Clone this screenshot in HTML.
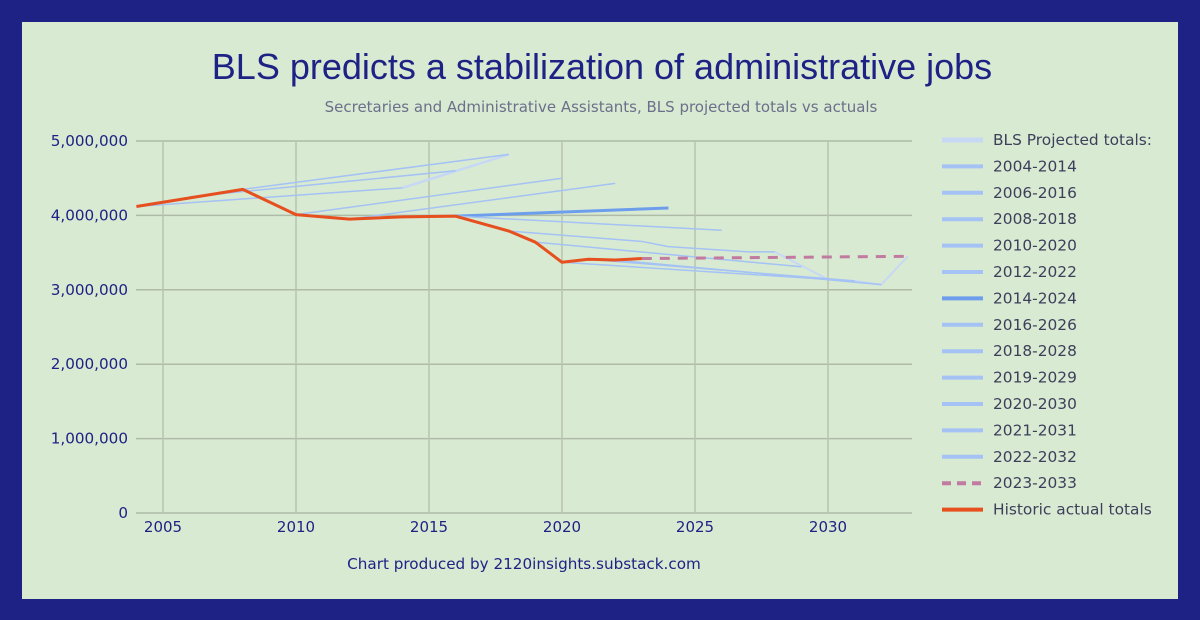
<!DOCTYPE html>
<html><head><meta charset="utf-8"><style>
html,body{margin:0;padding:0;width:1200px;height:620px;background:#1e2284;overflow:hidden}
#card{position:absolute;left:22px;top:22px;width:1156px;height:577px;background:#d9ead3}
svg{position:absolute;left:0;top:0}
text{font-family:"DejaVu Sans","Liberation Sans",sans-serif}
</style></head><body>
<div id="card"></div>
<svg id="chart" width="1200" height="620">
<text x="602" y="79" text-anchor="middle" font-size="36" fill="#1e2284" style="font-family:'Liberation Sans',sans-serif">BLS predicts a stabilization of administrative jobs</text>
<text x="601" y="112" text-anchor="middle" font-size="15" fill="#6b6f8a">Secretaries and Administrative Assistants, BLS projected totals vs actuals</text>
<text x="524" y="569" text-anchor="middle" font-size="15.2" fill="#1e2284">Chart produced by 2120insights.substack.com</text>
<g id="grid"></g><g id="series"></g><g id="legend"></g>
</svg>
<script>
const xTicks=[2005,2010,2015,2020,2025,2030];
const yTicks=[0,1000000,2000000,3000000,4000000,5000000];
const actualYears=[2004,2008,2010,2012,2014,2016,2018,2019,2020,2021,2022,2023];
const actualValues=[4.12,4.35,4.01,3.95,3.98,3.99,3.79,3.64,3.37,3.41,3.40,3.42];
const dashYears=[2023,2033];
const dashValues=[3.42,3.45];
const seriesNames=["BLS Projected totals:","2004-2014","2006-2016","2008-2018","2010-2020","2012-2022","2014-2024","2016-2026","2018-2028","2019-2029","2020-2030","2021-2031","2022-2032"];
const seriesYears=[[2014,2018],[2004,2014],[2006,2016],[2008,2018],[2010,2020],[2012,2022],[2016,2024],[2016,2026],[2018,2023,2024,2027,2028],[2019,2029],[2020,2030],[2021,2031],[2022,2032]];
const seriesValues=[[4.37,4.82],[4.12,4.37],[4.25,4.60],[4.35,4.82],[4.01,4.50],[3.95,4.43],[3.99,4.10],[3.99,3.80],[3.79,3.65,3.58,3.51,3.51],[3.64,3.31],[3.37,3.14],[3.41,3.12],[3.40,3.07]];
const extraYears=[[2028,2030],[2031,2032,2033]];
const extraValues=[[3.51,3.14],[3.12,3.07,3.45]];
const X=y=>163+(y-2005)*26.6, Y=v=>513-v*74.4;
const NS="http://www.w3.org/2000/svg";
function mk(t,p,a){const e=document.createElementNS(NS,t);for(const k in a)e.setAttribute(k,a[k]);p.appendChild(e);return e;}
const grid=document.getElementById('grid'),ser=document.getElementById('series'),leg=document.getElementById('legend');
const defs=mk('clipPath',document.getElementById('chart'),{id:'clip'});mk('rect',defs,{x:136,y:130,width:776,height:390});
yTicks.forEach(v=>{const l=mk('line',grid,{x1:136,x2:912,y1:Y(v/1e6),y2:Y(v/1e6),stroke:'#aebba6','stroke-width':1.5});

const t=mk('text',grid,{x:128,y:Y(v/1e6)+5,'text-anchor':'end','font-size':15.2,fill:'#1e2284'});t.textContent=v.toLocaleString('en-US');
});
xTicks.forEach(y=>{const l=mk('line',grid,{x1:X(y),x2:X(y),y1:141,y2:513,stroke:'#b7c4b0','stroke-width':1.5});

const t=mk('text',grid,{x:X(y),y:532,'text-anchor':'middle','font-size':15,fill:'#1e2284'});t.textContent=y;
});
const g=mk('g',ser,{'clip-path':'url(#clip)'});
function poly(ys,vs,col,w,dash,name){const p=mk('polyline',g,{points:ys.map((y,i)=>X(y)+','+Y(vs[i])).join(' '),fill:'none',stroke:col,'stroke-width':w,'stroke-linejoin':'round'});if(dash)p.setAttribute('stroke-dasharray',dash);
}
const light='#c6d8f4',mid='#a4c2f4',bold='#6d9eeb';
extraYears.forEach((ys,i)=>poly(ys,extraValues[i],light,2,null,'projection-connector'));
seriesYears.forEach((ys,i)=>poly(ys,seriesValues[i],i==0?light:(i==6?bold:mid),i==0?2.5:(i==6?3:1.5),null,'projection-'+seriesNames[i].replace(/[^0-9a-z]+/gi,'-').toLowerCase()));
poly(dashYears,dashValues,'#c27ba0',3,'10,8','projection-2023-2033');
poly(actualYears,actualValues,'#e6501f',3,null,'historic-actual-line');
const legNames=seriesNames.concat(["2023-2033","Historic actual totals"]);
legNames.forEach((n,i)=>{const y=140+i*26.4;
const col=i==0?light:i==6?bold:i==13?'#c27ba0':i==14?'#e6501f':mid;
const l=mk('line',leg,{x1:942,x2:983,y1:y,y2:y,stroke:col,'stroke-width':i==0?5:4});if(i==13)l.setAttribute('stroke-dasharray','9,6');

const t=mk('text',leg,{x:993,y:y+5,'font-size':15.4,fill:'#3c3f5a'});t.textContent=n;
});
</script>
</body></html>
